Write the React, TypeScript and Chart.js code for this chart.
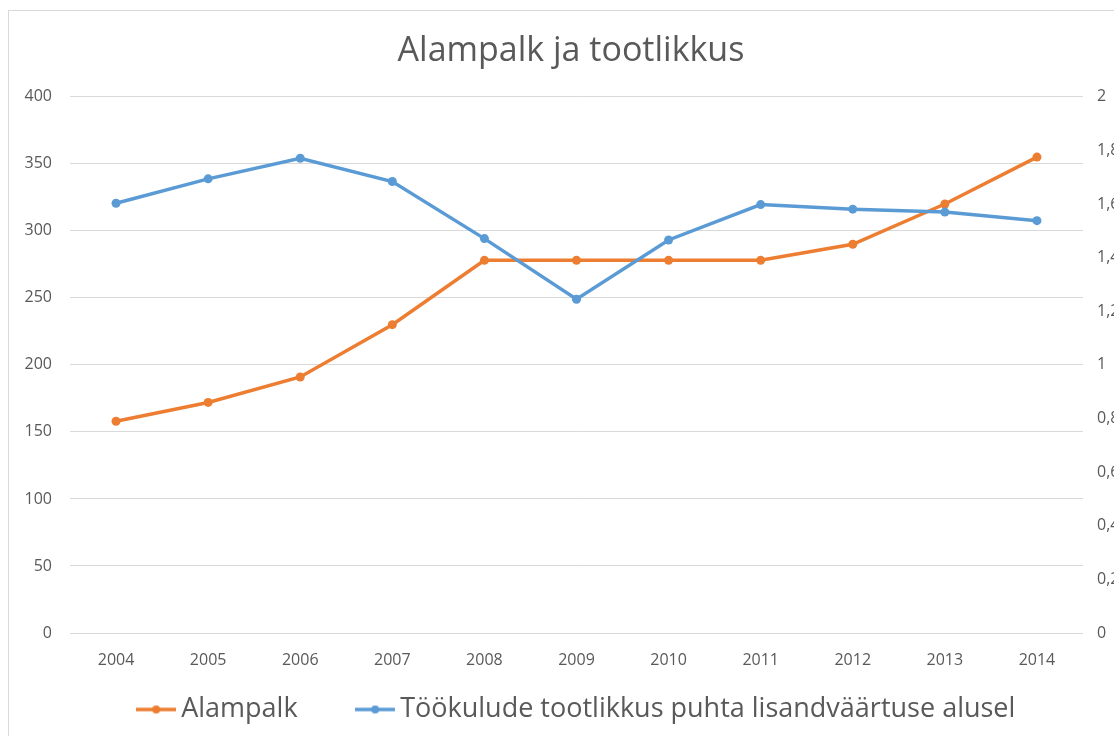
import React, { useEffect, useRef } from "react";
import { Chart, registerables } from "chart.js";

Chart.register(...registerables);

const years = ["2004", "2005", "2006", "2007", "2008", "2009", "2010", "2011", "2012", "2013", "2014"];
const minimumWage = [158, 172, 191, 230, 278, 278, 278, 278, 290, 320, 355];
const productivity = [1.603, 1.694, 1.771, 1.684, 1.471, 1.245, 1.466, 1.598, 1.581, 1.57, 1.538];
const seriesNames = ["Alampalk", "Töökulude tootlikkus puhta lisandväärtuse alusel"];
const chartTitle = "Alampalk ja tootlikkus";

const ORANGE = "#ED7D31";
const BLUE = "#5B9BD5";
const TEXT = "#595959";
const GRID = "#d9d9d9";

function makeIcon(color: string): HTMLCanvasElement {
  const c = document.createElement("canvas");
  c.width = 40;
  c.height = 10;
  const ctx = c.getContext("2d")!;
  ctx.strokeStyle = color;
  ctx.lineWidth = 3.5;
  ctx.beginPath();
  ctx.moveTo(0, 5);
  ctx.lineTo(40, 5);
  ctx.stroke();
  ctx.fillStyle = color;
  ctx.beginPath();
  ctx.arc(20, 5, 4, 0, Math.PI * 2);
  ctx.fill();
  return c;
}

const legendNudge = {
  id: "legendNudge",
  afterLayout(chart: any) {
    if (chart.legend) {
      chart.legend.left += 9;
      chart.legend.right += 9;
    }
  },
};

export default function App() {
  const ref = useRef<HTMLCanvasElement | null>(null);

  useEffect(() => {
    if (!ref.current) return;
    const icons = [makeIcon(ORANGE), makeIcon(BLUE)];
    const chart = new Chart(ref.current, {
      type: "line",
      data: {
        labels: years,
        datasets: [
          {
            label: seriesNames[0],
            data: minimumWage,
            yAxisID: "y",
            borderColor: ORANGE,
            backgroundColor: ORANGE,
            borderWidth: 3.5,
            pointRadius: 4.5,
            pointHoverRadius: 4.5,
            pointBorderWidth: 0,
            tension: 0,
            order: 1,
          },
          {
            label: seriesNames[1],
            data: productivity,
            yAxisID: "y2",
            borderColor: BLUE,
            backgroundColor: BLUE,
            borderWidth: 3.5,
            pointRadius: 4.5,
            pointHoverRadius: 4.5,
            pointBorderWidth: 0,
            tension: 0,
            order: 0,
          },
        ],
      },
      plugins: [legendNudge],
      options: {
        animation: false,
        responsive: false,
        layout: { padding: { left: 0, right: 0, top: 0, bottom: 16 } },
        plugins: {
          tooltip: { enabled: false },
          title: {
            display: true,
            text: chartTitle,
            color: TEXT,
            font: { family: "'Open Sans'", size: 34, weight: "normal" },
            padding: { top: 20, bottom: 25 },
          },
          legend: {
            position: "bottom",
            labels: {
              usePointStyle: true,
              pointStyleWidth: 23,
              color: TEXT,
              padding: 10,
              font: { family: "'Open Sans'", size: 27 },
              generateLabels: () =>
                seriesNames.map((name, i) => ({
                  text: i === 0 ? name + "\u00a0".repeat(8) : name,
                  fillStyle: i === 0 ? ORANGE : BLUE,
                  strokeStyle: i === 0 ? ORANGE : BLUE,
                  lineWidth: 0,
                  pointStyle: icons[i],
                  hidden: false,
                  datasetIndex: i,
                  fontColor: TEXT,
                })),
            },
          },
        },
        scales: {
          x: {
            offset: true,
            grid: { display: false, offset: true },
            border: { display: false },
            ticks: {
              color: TEXT,
              padding: 10,
              maxRotation: 0,
              font: { family: "'Open Sans'", size: 16 },
            },
            afterFit: (s: any) => {
              s.height = 53;
            },
          },
          y: {
            position: "left",
            min: 0,
            max: 400,
            ticks: {
              stepSize: 50,
              padding: 18,
              color: TEXT,
              font: { family: "'Open Sans'", size: 16 },
            },
            grid: { color: GRID, lineWidth: 1, drawTicks: false },
            border: { display: false },
            afterFit: (s: any) => {
              s.width = 61;
            },
          },
          y2: {
            position: "right",
            min: 0,
            max: 2,
            ticks: {
              stepSize: 0.2,
              padding: 14,
              color: TEXT,
              font: { family: "'Open Sans'", size: 16 },
              callback: (v: any) => String(Math.round(Number(v) * 10) / 10).replace(".", ","),
            },
            grid: { display: false, drawTicks: false },
            border: { display: false },
            afterFit: (s: any) => {
              s.width = 50;
            },
          },
        },
      } as any,
    });
    return () => chart.destroy();
  }, []);

  return (
    <div
      style={{
        position: "fixed",
        left: 0,
        top: 0,
        width: 1114,
        height: 736,
        overflow: "hidden",
        background: "#fff",
      }}
    >
      <div
        style={{
          position: "absolute",
          left: 8,
          top: 10,
          width: 1124,
          height: 738,
          border: `1px solid ${GRID}`,
        }}
      >
        <canvas ref={ref} width={1124} height={738} style={{ width: 1124, height: 738, display: "block" }} />
      </div>
    </div>
  );
}
